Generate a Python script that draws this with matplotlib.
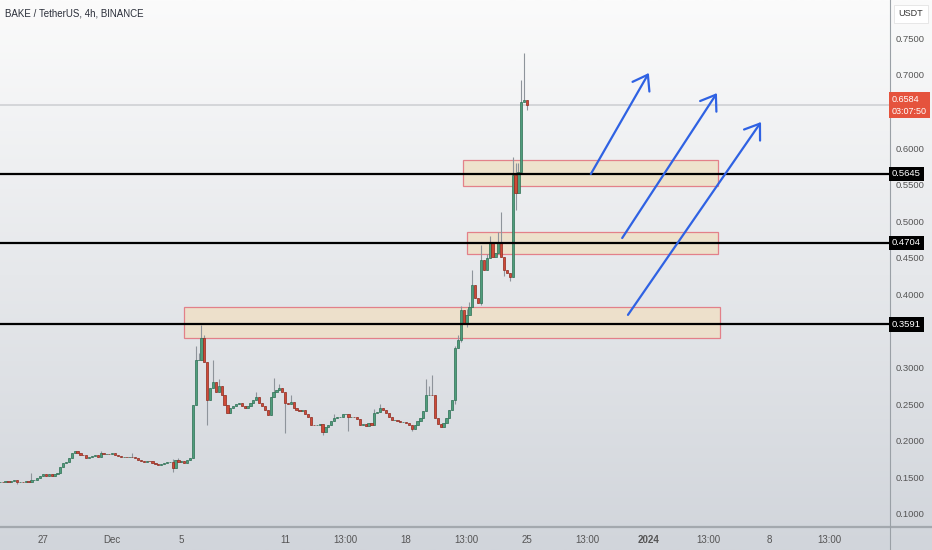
import matplotlib
matplotlib.use("Agg")
import matplotlib.pyplot as plt
import matplotlib.dates as mdates
import matplotlib.transforms as mtransforms
from matplotlib.lines import Line2D
from matplotlib.patches import Rectangle
import numpy as np
import pandas as pd

plt.rcParams["font.family"] = ["Liberation Sans Narrow", "Liberation Sans", "DejaVu Sans"]

TITLE = "BAKE / TetherUS, 4h, BINANCE"
FIRST_CANDLE = "2023-11-24 12:00"
FIRST_OPEN = 0.1437

# 4h closes
closes = [
    0.1440, 0.1437, 0.1445, 0.1440, 0.1452, 0.1460, 0.1432, 0.1440, 0.1437, 0.1445,
    0.1442, 0.1464, 0.1470, 0.1492, 0.1519, 0.1550, 0.1520, 0.1550, 0.1520, 0.1550,
    0.1560, 0.1640, 0.1700, 0.1710, 0.1765, 0.1830, 0.1860, 0.1830, 0.1810, 0.1800,
    0.1765, 0.1780, 0.1790, 0.1800, 0.1780, 0.1830, 0.1820, 0.1825, 0.1820, 0.1835,
    0.1810, 0.1790, 0.1780, 0.1782, 0.1778, 0.1780, 0.1772, 0.1760, 0.1740, 0.1720,
    0.1710, 0.1720, 0.1718, 0.1697, 0.1680, 0.1675, 0.1678, 0.1697, 0.1710, 0.1712,
    0.1630, 0.1738, 0.1710, 0.1720, 0.1690, 0.1738, 0.1765, 0.2490, 0.3100, 0.3110,
    0.3400, 0.3080, 0.2560, 0.2720, 0.2800, 0.2670, 0.2750, 0.2620, 0.2490, 0.2380,
    0.2450, 0.2480, 0.2500, 0.2510, 0.2480, 0.2450, 0.2480, 0.2520, 0.2560, 0.2600,
    0.2520, 0.2470, 0.2420, 0.2350, 0.2600, 0.2670, 0.2690, 0.2720, 0.2660, 0.2520,
    0.2500, 0.2530, 0.2450, 0.2420, 0.2410, 0.2415, 0.2366, 0.2325, 0.2216, 0.2210,
    0.2216, 0.2230, 0.2120, 0.2190, 0.2216, 0.2270, 0.2310, 0.2330, 0.2330, 0.2366,
    0.2370, 0.2325, 0.2330, 0.2320, 0.2300, 0.2216, 0.2230, 0.2202, 0.2240, 0.2216,
    0.2380, 0.2400, 0.2448, 0.2421, 0.2380, 0.2325, 0.2284, 0.2290, 0.2270, 0.2257,
    0.2260, 0.2243, 0.2216, 0.2161, 0.2216, 0.2270, 0.2311, 0.2407, 0.2626, 0.2630,
    0.2626, 0.2311, 0.2230, 0.2189, 0.2250, 0.2311, 0.2421, 0.2557, 0.3268, 0.3377,
    0.3787, 0.3609, 0.3719, 0.3828, 0.4128, 0.3951, 0.3883, 0.4470, 0.4333, 0.4497,
    0.4716, 0.4511, 0.4566, 0.4716, 0.4511, 0.4333, 0.4292, 0.4238, 0.5631, 0.5385,
    0.5672, 0.6628, 0.6656, 0.6584,
]

# visible wicks (candle index -> price)
wick_high = {
    11: 0.156, 35: 0.186, 46: 0.184, 60: 0.175, 62: 0.177, 68: 0.330, 69: 0.320,
    70: 0.358, 71: 0.345, 74: 0.310, 76: 0.285, 89: 0.266, 95: 0.286, 97: 0.278,
    101: 0.262, 116: 0.236, 130: 0.243, 132: 0.250, 148: 0.285, 149: 0.275,
    150: 0.290, 158: 0.330, 159: 0.345, 160: 0.384, 162: 0.380, 163: 0.390,
    164: 0.433, 167: 0.467, 169: 0.455, 170: 0.480, 173: 0.485, 174: 0.513,
    178: 0.588, 179: 0.580, 180: 0.580, 181: 0.693, 182: 0.730, 183: 0.662,
}
wick_low = {
    6: 0.141, 60: 0.158, 72: 0.222, 99: 0.211, 112: 0.208, 121: 0.214, 143: 0.213,
    158: 0.250, 160: 0.335, 162: 0.355, 167: 0.385, 175: 0.425, 177: 0.418,
    179: 0.5153, 183: 0.652,
}

levels = [0.5645, 0.4704, 0.3591]
last_price = 0.6584
countdown = "03:07:50"

# (start, end, low, high)
zones = [
    ("2023-12-05 03:45", "2024-01-05 04:00", 0.3404, 0.3828),
    ("2023-12-21 12:30", "2024-01-05 01:00", 0.4552, 0.4852),
    ("2023-12-21 07:00", "2024-01-05 01:00", 0.5481, 0.5836),
]

# (start time, start price, end time, end price)
arrows = [
    ("2023-12-28 16:30", 0.5645, "2024-01-01 01:00", 0.7025),
    ("2023-12-30 12:00", 0.4770, "2024-01-04 23:30", 0.6750),
    ("2023-12-30 20:00", 0.3720, "2024-01-07 12:45", 0.6355),
]

# 0.35 and 0.65 sit under the level / price labels
price_ticks = [0.10, 0.15, 0.20, 0.25, 0.30, 0.40, 0.45, 0.50, 0.55, 0.60, 0.70, 0.75]
date_ticks = ["2023-11-27", "2023-12-01", "2023-12-05", "2023-12-11", "2023-12-14 12:00",
              "2023-12-18", "2023-12-21 12:00", "2023-12-25", "2023-12-28 12:00",
              "2024-01-01", "2024-01-04 12:00", "2024-01-08", "2024-01-11 12:00"]
date_labels = ["27", "Dec", "5", "11", "13:00", "18", "13:00", "25", "13:00",
               "2024", "13:00", "8", "13:00"]

GREEN = "#4f9d7c"
GREEN_EDGE = "#2d6f53"
RED = "#cf4a37"
RED_EDGE = "#8e2a1f"
BLUE = "#2f62e3"


def num(t):
    return mdates.date2num(pd.Timestamp(t).to_pydatetime())


fig = plt.figure(figsize=(9.32, 5.5), dpi=100)

# background gradient
bg = fig.add_axes([0, 0, 1, 1], zorder=-10)
top = np.array([251, 251, 251]) / 255
bot = np.array([209, 213, 219]) / 255
t = np.linspace(0, 1, 256)[:, None]
grad = top[None, :] * (1 - t) + bot[None, :] * t
bg.imshow(grad[:, None, :], aspect="auto", extent=[0, 1, 0, 1])
bg.axis("off")

ax = fig.add_axes([0, 23 / 550, 890 / 932, 527 / 550])
ax.set_facecolor("none")

times = pd.date_range(FIRST_CANDLE, periods=len(closes), freq="4h")
x = mdates.date2num(times.to_pydatetime())
opens = [FIRST_OPEN] + closes[:-1]
o = np.array(opens)
c = np.array(closes)
highs = np.array([max(o[i], c[i], wick_high.get(i, 0)) for i in range(len(c))])
lows = np.array([min(o[i], c[i], wick_low.get(i, 9)) for i in range(len(c))])
up = c >= o

# zones
for start, end, lo, hi in zones:
    ax.add_patch(Rectangle((num(start), lo), num(end) - num(start), hi - lo,
                           facecolor="#efe0c6", alpha=0.85, edgecolor="#e26f7b",
                           linewidth=0.9, zorder=1))

# last price line
ax.axhline(last_price, color="#cfd1d4", lw=1.2, zorder=1.5)

# candles
ax.vlines(x, lows, highs, color="#8e949b", lw=0.8, zorder=2)
ax.bar(x[up], c[up] - o[up], bottom=o[up], width=0.13, color=GREEN,
       edgecolor=GREEN_EDGE, linewidth=0.5, zorder=3)
ax.bar(x[~up], c[~up] - o[~up], bottom=o[~up], width=0.13, color=RED,
       edgecolor=RED_EDGE, linewidth=0.5, zorder=3)

# horizontal levels
for lv in levels:
    ax.axhline(lv, color="black", lw=1.6, zorder=4)

# arrows
for t0, p0, t1, p1 in arrows:
    ax.annotate("", xy=(num(t1), p1), xytext=(num(t0), p0),
                arrowprops=dict(arrowstyle="->,head_length=0.5,head_width=0.35",
                                color=BLUE, lw=1.6, mutation_scale=20,
                                shrinkA=0, shrinkB=0), zorder=5)

ax.set_xlim(num("2023-11-27") - 2.487, num("2023-11-27") + 48.99)
ax.set_ylim(0.08224, 0.80219)

ax.set_xticks([num(d) for d in date_ticks])
ax.set_xticklabels(date_labels)
for lbl, txt in zip(ax.get_xticklabels(), date_labels):
    if txt == "2024":
        lbl.set_fontweight("bold")
        lbl.set_color("#222222")
ax.yaxis.tick_right()
ax.set_yticks(price_ticks)
ax.set_yticklabels([f"{p:.4f}" for p in price_ticks])
ax.tick_params(axis="x", length=0, pad=6, labelsize=7, labelcolor="#555555")
ax.tick_params(axis="y", length=0, pad=4, labelsize=6.8, labelcolor="#555555")
for s in ax.spines.values():
    s.set_visible(False)

# axis borders
fig.add_artist(Line2D([0, 1], [23 / 550, 23 / 550], color="#a3a8ae", lw=1.6))
fig.add_artist(Line2D([890 / 932, 890 / 932], [0, 1], color="#9aa0a6", lw=0.8))

# price labels on the scale
tr = mtransforms.blended_transform_factory(fig.transFigure, ax.transData)
for lv in levels:
    fig.text(892 / 932, lv, f"{lv:.4f}", transform=tr, color="white", fontsize=6.8,
             ha="left", va="center",
             bbox=dict(boxstyle="square,pad=0.3", fc="black", ec="none"))
fig.text(892 / 932, last_price, f"{last_price:.4f}\n{countdown}", transform=tr,
         color="white", fontsize=6.5, ha="left", va="center", linespacing=1.4,
         bbox=dict(boxstyle="square,pad=0.3", fc="#e5533d", ec="none"))

fig.text(911 / 932, 1 - 14 / 550, "USDT", ha="center", va="center", fontsize=6.5,
         color="#333333",
         bbox=dict(boxstyle="square,pad=0.5", fc="white", ec="#e3e3e3", lw=0.6))
fig.text(5 / 932, 1 - 14 / 550, TITLE, ha="left", va="center", fontsize=7,
         color="#2a2e39")

fig.savefig("out.png", dpi=100)
